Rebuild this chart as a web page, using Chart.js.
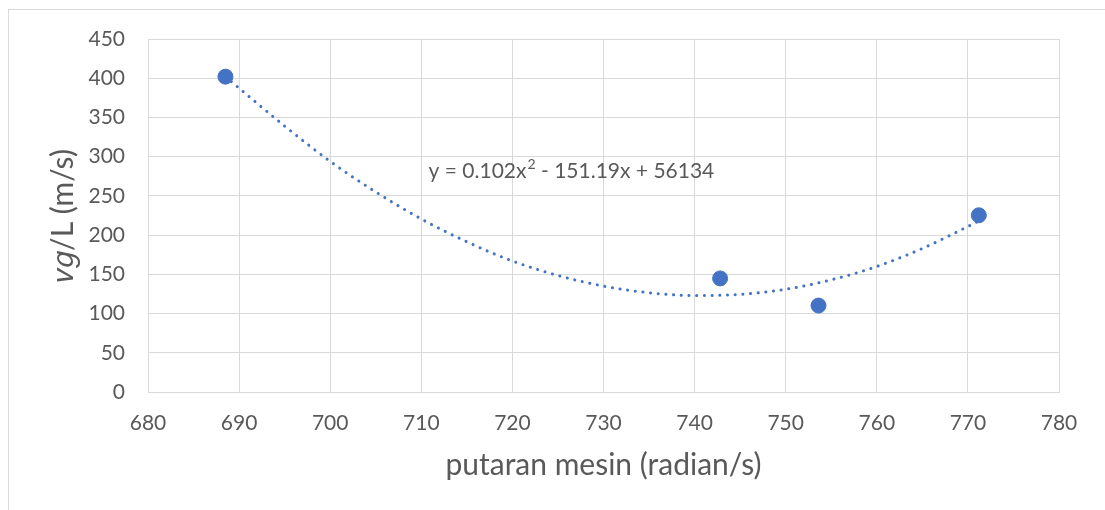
<!DOCTYPE html>
<html>
<head>
<meta charset="utf-8">
<script src="https://cdn.jsdelivr.net/npm/chart.js@4/dist/chart.umd.min.js"></script>
<style>
    body { margin: 0; background: #fff; }
    #wrap { position: relative; width: 1105px; height: 510px; overflow: hidden; }
    #frame { position: absolute; left: 8px; top: 9px; width: 1200px; height: 600px;
             border-top: 1px solid #d9d9d9; border-left: 1px solid #d9d9d9; }
    canvas { position: absolute; left: 0; top: 0; }
</style>
</head>
<body>
<div id="wrap">
    <div id="frame"></div>
    <canvas id="chart" width="1105" height="510"></canvas>
</div>
<script>
// measured points
const speedValues = [688.5, 742.8, 753.6, 771.2];
const vgValues = [402, 144.8, 110.2, 225.3];

// polynomial trendline
const trendX = [688.5, 695, 700, 705, 710, 715, 720, 725, 730, 735, 740, 745, 750, 755, 760, 765, 770, 771.2];
const trendY = [402, 339, 294, 255, 220.6, 191.5, 167, 148.5, 135, 126.5, 123, 124.5, 131, 143, 160, 183, 211, 218];

const xTicks = [680, 690, 700, 710, 720, 730, 740, 750, 760, 770, 780];
const yTicks = [0, 50, 100, 150, 200, 250, 300, 350, 400, 450];

const equationText = ['y = 0.102x', '2', ' - 151.19x + 56134'];

const blue = '#4472C4';
const gridColor = '#d9d9d9';
const labelColor = '#595959';
const fontFamily = 'Lato, "Open Sans", sans-serif';

const equationLabel = {
    id: 'equationLabel',
    afterDatasetsDraw(chart) {
        const ctx = chart.ctx;
        const x = chart.scales.x.getPixelForValue(710.8);
        const y = chart.scales.y.getPixelForValue(281);
        ctx.save();
        ctx.fillStyle = labelColor;
        ctx.textBaseline = 'middle';
        ctx.textAlign = 'left';
        ctx.font = '21px ' + fontFamily;
        ctx.fillText(equationText[0], x, y);
        let w = ctx.measureText(equationText[0]).width;
        ctx.font = '14px ' + fontFamily;
        ctx.fillText(equationText[1], x + w + 1, y - 7);
        w += ctx.measureText(equationText[1]).width + 1;
        ctx.font = '21px ' + fontFamily;
        ctx.fillText(equationText[2], x + w, y);
        ctx.restore();
    }
};

const ctx = document.getElementById('chart').getContext('2d');
new Chart(ctx, {
    type: 'scatter',
    data: {
        datasets: [
            {
                label: 'trend',
                data: trendX.map((x, i) => ({ x: x, y: trendY[i] })),
                showLine: true,
                borderColor: blue,
                borderWidth: 3,
                borderDash: [0.1, 7.6],
                borderCapStyle: 'round',
                tension: 0.4,
                cubicInterpolationMode: 'monotone',
                pointRadius: 0,
                order: 2
            },
            {
                label: 'data',
                data: speedValues.map((x, i) => ({ x: x, y: vgValues[i] })),
                backgroundColor: blue,
                borderColor: blue,
                pointRadius: 7.5,
                pointHoverRadius: 7.5,
                order: 1
            }
        ]
    },
    options: {
        responsive: false,
        animation: false,
        layout: { padding: { top: 39, right: 46, left: 0, bottom: 0 } },
        plugins: {
            legend: { display: false },
            tooltip: { enabled: false }
        },
        scales: {
            x: {
                type: 'linear',
                min: 680,
                max: 780,
                afterBuildTicks: scale => { scale.ticks = xTicks.map(v => ({ value: v })); },
                afterFit: scale => { scale.height = 118; },
                grid: { color: gridColor, lineWidth: 1, drawTicks: false },
                border: { color: gridColor, width: 1 },
                ticks: { color: labelColor, font: { family: fontFamily, size: 21 }, padding: 19 },
                title: {
                    display: true,
                    text: 'putaran mesin (radian/s)',
                    color: labelColor,
                    font: { family: fontFamily, size: 30 },
                    padding: { top: 0, bottom: 27 }
                }
            },
            y: {
                min: 0,
                max: 450,
                afterBuildTicks: scale => { scale.ticks = yTicks.map(v => ({ value: v })); },
                afterFit: scale => { scale.width = 148; },
                grid: { color: gridColor, lineWidth: 1, drawTicks: false },
                border: { color: gridColor, width: 1 },
                ticks: { color: labelColor, font: { family: fontFamily, size: 21 }, padding: 23 },
                title: {
                    display: true,
                    text: '𝑣𝑔/L (m/s)',
                    color: labelColor,
                    font: { family: fontFamily, size: 30 },
                    padding: { top: 45, bottom: 0 }
                }
            }
        }
    },
    plugins: [equationLabel]
});
</script>
</body>
</html>
